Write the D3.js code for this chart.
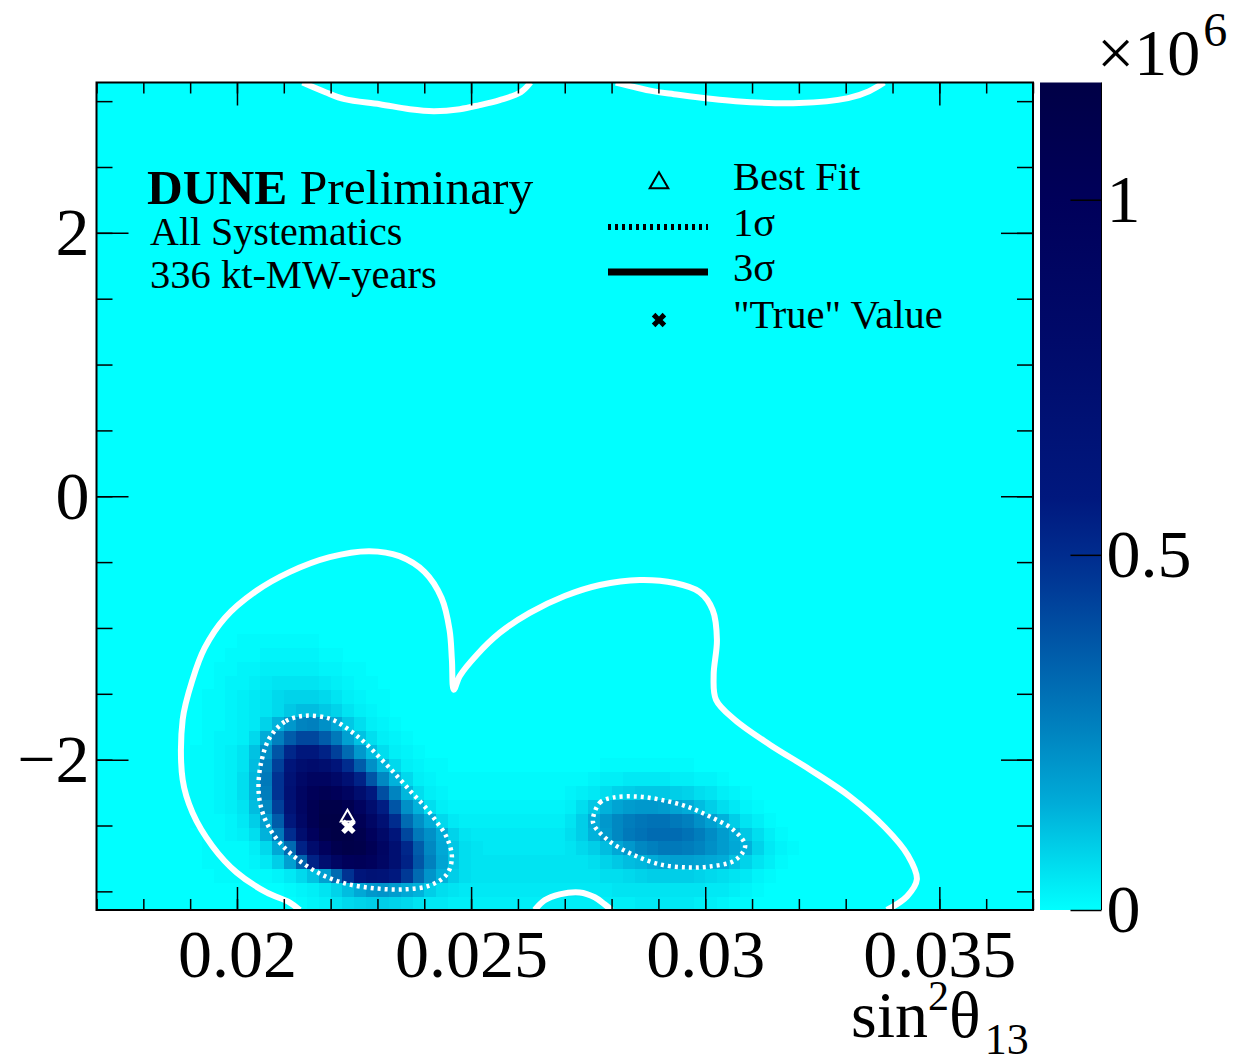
<!DOCTYPE html>
<html>
<head>
<meta charset="utf-8">
<script src="https://cdn.jsdelivr.net/npm/d3@7"></script>
<style>
body { margin: 0; background: #fff; }
text { font-family: "Liberation Serif", "Times New Roman", serif; fill: #000; }
</style>
</head>
<body>
<div id="svg"></div>
<script>
//binning of the posterior histogram
let xMin = 0.017, xMax = 0.037, nBinsX = 80;
let yMin = -Math.PI, yMax = Math.PI, nBinsY = 60;
let firstCol = 8; // first stored column (bin index); rows start at bin 0

//posterior density per bin (units of 1e4), rows from delta=-pi upward, columns 8..61
let densityRows = [
  [0,0,0,0,0,0,0,0,0,1, 2,3,5,7,8,9,9,8,7,5, 4,4,3,3,3,3,3,3,3,3, 3,3,3,3,3,3,3,3,4,4, 4,4,4,3,3,2,1,1,0,0, 0,0,0,0],
  [0,0,0,0,0,0,0,0,1,2, 3,5,8,12,16,20,21,19,16,14, 9,6,5,4,4,4,4,4,4,4, 4,4,4,4,4,4,5,5,5,5, 5,5,5,5,4,4,3,2,1,0, 0,0,0,0],
  [0,0,1,1,1,1,1,2,4,7, 11,18,32,48,62,68,66,58,46,32, 21,14,9,6,5,5,5,5,5,5, 5,5,5,5,5,6,6,7,8,9, 9,9,9,8,7,6,5,4,2,1, 0,0,0,0],
  [0,1,1,1,1,2,4,9,18,34, 54,74,90,100,102,98,88,72,54,38, 26,17,10,6,5,5,5,5,5,5, 5,5,5,5,6,8,10,12,13,15, 17,18,18,17,16,15,11,8,5,3, 1,0,0,0],
  [0,1,1,1,1,3,7,16,32,54, 78,98,110,114,112,104,90,72,52,36, 24,16,10,6,5,4,4,4,4,4, 4,4,5,7,9,12,16,20,24,26, 28,28,27,25,22,19,16,14,8,4, 2,1,0,0],
  [0,1,1,2,3,6,14,28,50,76, 98,112,117,116,110,98,82,62,42,28, 22,15,8,5,4,4,4,4,4,4, 4,4,6,9,14,19,24,28,30,32, 32,32,30,27,23,19,15,10,6,3, 1,0,0,0],
  [1,1,1,2,4,9,18,36,60,86, 106,116,117,114,104,88,70,50,32,22, 15,7,4,3,3,3,3,3,3,3, 3,3,5,9,15,20,24,27,29,30, 30,28,26,22,18,14,9,5,3,1, 0,0,0,0],
  [1,1,2,3,5,12,24,44,68,90, 106,114,114,108,94,76,56,38,22,14, 6,3,2,2,2,2,2,2,2,2, 2,2,3,6,10,14,17,19,20,20, 19,17,15,12,9,6,4,2,1,0, 0,0,0,0],
  [1,1,2,3,6,13,27,48,70,90, 102,106,102,92,76,58,40,25,13,6, 3,2,1,1,1,1,1,1,1,1, 1,1,2,3,4,6,8,9,10,10, 10,9,8,6,5,3,2,1,0,0, 0,0,0,0],
  [1,1,2,3,6,13,28,48,68,84, 92,92,84,70,54,38,24,14,7,3, 2,1,1,1,1,1,1,1,1,1, 1,1,1,1,2,3,3,4,4,4, 4,3,3,2,2,1,0,0,0,0, 0,0,0,0],
  [1,1,2,3,5,12,26,44,62,74, 78,74,64,50,36,22,13,7,3,2, 1,1,0,0,0,0,0,0,0,0, 0,0,0,0,0,1,1,1,1,1, 1,1,1,0,0,0,0,0,0,0, 0,0,0,0],
  [1,1,2,3,5,11,22,38,52,60, 60,54,44,32,20,12,6,3,2,1, 0,0,0,0,0,0,0,0,0,0, 0,0,0,0,0,0,0,0,0,0, 0,0,0,0,0,0,0,0,0,0, 0,0,0,0],
  [0,1,2,2,3,7,15,26,36,42, 42,36,28,18,11,6,3,2,1,0, 0,0,0,0,0,0,0,0,0,0, 0,0,0,0,0,0,0,0,0,0, 0,0,0,0,0,0,0,0,0,0, 0,0,0,0],
  [0,1,1,2,3,4,8,14,20,25, 26,22,16,10,6,3,2,1,0,0, 0,0,0,0,0,0,0,0,0,0, 0,0,0,0,0,0,0,0,0,0, 0,0,0,0,0,0,0,0,0,0, 0,0,0,0],
  [0,1,1,2,3,4,5,7,10,12, 12,10,8,5,3,2,1,0,0,0, 0,0,0,0,0,0,0,0,0,0, 0,0,0,0,0,0,0,0,0,0, 0,0,0,0,0,0,0,0,0,0, 0,0,0,0],
  [0,1,1,2,3,4,5,7,8,8, 8,7,5,3,2,1,1,0,0,0, 0,0,0,0,0,0,0,0,0,0, 0,0,0,0,0,0,0,0,0,0, 0,0,0,0,0,0,0,0,0,0, 0,0,0,0],
  [0,0,1,2,2,3,4,5,5,5, 5,4,3,2,1,1,0,0,0,0, 0,0,0,0,0,0,0,0,0,0, 0,0,0,0,0,0,0,0,0,0, 0,0,0,0,0,0,0,0,0,0, 0,0,0,0],
  [0,0,1,1,2,2,3,3,3,3, 3,2,2,1,1,0,0,0,0,0, 0,0,0,0,0,0,0,0,0,0, 0,0,0,0,0,0,0,0,0,0, 0,0,0,0,0,0,0,0,0,0, 0,0,0,0],
  [0,0,0,1,1,1,2,2,2,2, 2,1,1,0,0,0,0,0,0,0, 0,0,0,0,0,0,0,0,0,0, 0,0,0,0,0,0,0,0,0,0, 0,0,0,0,0,0,0,0,0,0, 0,0,0,0],
  [0,0,0,0,1,1,1,1,1,1, 1,0,0,0,0,0,0,0,0,0, 0,0,0,0,0,0,0,0,0,0, 0,0,0,0,0,0,0,0,0,0, 0,0,0,0,0,0,0,0,0,0, 0,0,0,0]
];

//1 sigma contours [sin2theta13, deltaCP]
let sigma1A = [[0.02144,-1.667],[0.02102,-1.712],[0.02070,-1.833],[0.02053,-2.000],[0.02046,-2.189],[0.02050,-2.341],[0.02065,-2.492],[0.02091,-2.629],[0.02130,-2.758],[0.02176,-2.864],[0.02230,-2.939],[0.02294,-2.977],[0.02358,-2.985],[0.02412,-2.955],[0.02448,-2.871],[0.02459,-2.742],[0.02448,-2.591],[0.02426,-2.470],[0.02399,-2.348],[0.02373,-2.250],[0.02343,-2.129],[0.02309,-2.000],[0.02273,-1.871],[0.02236,-1.765],[0.02198,-1.689]];
let sigma1B = [[0.02760,-2.455],[0.02775,-2.326],[0.02803,-2.288],[0.02854,-2.280],[0.02903,-2.303],[0.02961,-2.356],[0.03010,-2.432],[0.03059,-2.530],[0.03085,-2.644],[0.03080,-2.705],[0.03059,-2.773],[0.03010,-2.811],[0.02961,-2.818],[0.02903,-2.795],[0.02845,-2.720],[0.02796,-2.621],[0.02764,-2.508]];

//3 sigma contours
let sigma3Main = [[0.02134,-3.1416],[0.02112,-3.083],[0.02063,-3.008],[0.01999,-2.856],[0.01948,-2.659],[0.01905,-2.402],[0.01884,-2.152],[0.01884,-1.697],[0.01905,-1.394],[0.01931,-1.152],[0.01974,-0.924],[0.02038,-0.727],[0.02112,-0.576],[0.02198,-0.462],[0.02283,-0.417],[0.02347,-0.455],[0.02401,-0.576],[0.02437,-0.773],[0.02454,-1.015],[0.02459,-1.242],[0.02463,-1.470],[0.02476,-1.364],[0.02512,-1.205],[0.02561,-1.038],[0.02625,-0.886],[0.02700,-0.758],[0.02775,-0.674],[0.02860,-0.636],[0.02935,-0.659],[0.02988,-0.727],[0.03016,-0.864],[0.03025,-1.091],[0.03018,-1.356],[0.03023,-1.545],[0.03063,-1.697],[0.03138,-1.886],[0.03224,-2.076],[0.03309,-2.280],[0.03384,-2.515],[0.03433,-2.727],[0.03452,-2.909],[0.03431,-3.038],[0.03388,-3.1416]];
let sigma3Bump = [[0.02636,-3.1416],[0.02657,-3.068],[0.02689,-3.023],[0.02732,-3.008],[0.02764,-3.045],[0.02785,-3.098],[0.02800,-3.1416]];
let sigma3TopA = [[0.02140,3.1416],[0.02189,3.068],[0.02230,3.015],[0.02305,2.977],[0.02369,2.939],[0.02420,2.924],[0.02476,2.939],[0.02518,2.970],[0.02561,3.008],[0.02606,3.068],[0.02627,3.1416]];
let sigma3TopB = [[0.02809,3.1416],[0.02888,3.076],[0.02933,3.053],[0.03065,3.000],[0.03200,2.985],[0.03305,3.023],[0.03350,3.076],[0.03382,3.1416]];

let bestFit = [0.02236, -2.44];
let trueValue = [0.02238, -2.51];

//ticks
let xMajorTicks = [0.02, 0.025, 0.03, 0.035];
let xMinorTicks = d3.range(17, 38).map(d => d / 1000);
let yMajorTicks = [-2, 0, 2];
let yMinorTicks = d3.range(-6, 7).map(d => d / 2);
let zTicks = [0, 0.5, 1];

let legendLabels = ['Best Fit', '1σ', '3σ', '"True" Value'];

//palette (density in 1e4 units)
let paletteValues = [0, 5, 15, 25, 35, 45, 50, 58, 80, 100, 116.5];
let paletteColors = ['#00ffff', '#00e4f2', '#00acd8', '#0084c0', '#0060ac', '#003c98', '#002c8e', '#00187e', '#000a6a', '#00005a', '#000046'];

//dimensions
let w = 1244, h = 1064;
let pLeft = 96.5, pRight = 1033, pTop = 82.5, pBottom = 910;
let barL = 1040, barR = 1101.5;
let tickFont = 68;

let svg = d3.select('#svg').append('svg').attr('width', w).attr('height', h);

let x = d3.scaleLinear().domain([xMin, xMax]).range([pLeft, pRight]);
let y = d3.scaleLinear().domain([yMin, yMax]).range([pBottom, pTop]);
let color = d3.scaleLinear().domain(paletteValues).range(paletteColors).clamp(true);

svg.append('clipPath').attr('id', 'plotClip').append('rect')
  .attr('x', pLeft).attr('y', pTop).attr('width', pRight - pLeft).attr('height', pBottom - pTop);

//background
svg.append('rect').attr('x', pLeft).attr('y', pTop).attr('width', pRight - pLeft).attr('height', pBottom - pTop)
  .attr('fill', color(0));

//cells
let dx = (xMax - xMin) / nBinsX, dy = (yMax - yMin) / nBinsY;
let cells = [];
densityRows.forEach((row, r) => {
  row.forEach((v, i) => {
    if (v > 0) cells.push({ c: firstCol + i, r: r, v: v });
  });
});
svg.append('g').attr('clip-path', 'url(#plotClip)').selectAll('rect').data(cells).enter().append('rect')
  .attr('x', d => x(xMin + d.c * dx))
  .attr('y', d => y(yMin + (d.r + 1) * dy))
  .attr('width', d => x(xMin + (d.c + 1) * dx) - x(xMin + d.c * dx) + 0.4)
  .attr('height', d => y(yMin + d.r * dy) - y(yMin + (d.r + 1) * dy) + 0.4)
  .attr('fill', d => color(d.v))
  .attr('shape-rendering', 'crispEdges');

//contours
let line = d3.line().x(d => x(d[0])).y(d => y(d[1])).curve(d3.curveCatmullRom.alpha(0.5));
let lineClosed = d3.line().x(d => x(d[0])).y(d => y(d[1])).curve(d3.curveCatmullRomClosed.alpha(0.5));
let cg = svg.append('g').attr('clip-path', 'url(#plotClip)');
cg.selectAll('path.s3').data([sigma3Main, sigma3Bump, sigma3TopA, sigma3TopB]).enter().append('path')
  .attr('class', 's3').attr('d', line)
  .attr('fill', 'none').attr('stroke', '#fff').attr('stroke-width', 6).attr('stroke-linejoin', 'round');
cg.selectAll('path.s1').data([sigma1A, sigma1B]).enter().append('path')
  .attr('class', 's1').attr('d', lineClosed)
  .attr('fill', 'none').attr('stroke', '#fff').attr('stroke-width', 4.5).attr('stroke-dasharray', '3 4');

//markers
svg.append('path').attr('d', d3.symbol(d3.symbolTriangle, 80)())
  .attr('transform', 'translate(' + x(bestFit[0]) + ',' + y(bestFit[1]) + ')')
  .attr('fill', 'none').attr('stroke', '#fff').attr('stroke-width', 2);
svg.append('path').attr('d', d3.symbol(d3.symbolCross, 130)())
  .attr('transform', 'translate(' + x(trueValue[0]) + ',' + y(trueValue[1]) + ') rotate(45)')
  .attr('fill', '#fff');

//axes
function styleAxis(g) {
  g.select('.domain').remove();
  g.selectAll('.tick line').attr('stroke', '#000').attr('stroke-width', 1.5);
  g.selectAll('.tick text').attr('font-size', tickFont).attr('font-family', '"Liberation Serif", serif').attr('fill', '#000');
}
let xfmt = d => String(d);
svg.append('g').attr('transform', 'translate(0,' + pBottom + ')')
  .call(d3.axisBottom(x).tickValues(xMinorTicks).tickSize(-11).tickFormat('')).call(styleAxis);
svg.append('g').attr('transform', 'translate(0,' + pBottom + ')')
  .call(d3.axisBottom(x).tickValues(xMajorTicks).tickSize(-23).tickPadding(19).tickFormat(xfmt)).call(styleAxis);
svg.append('g').attr('transform', 'translate(0,' + pTop + ')')
  .call(d3.axisTop(x).tickValues(xMinorTicks).tickSize(-11).tickFormat('')).call(styleAxis);
svg.append('g').attr('transform', 'translate(0,' + pTop + ')')
  .call(d3.axisTop(x).tickValues(xMajorTicks).tickSize(-23).tickFormat('')).call(styleAxis);

svg.append('g').attr('transform', 'translate(' + pLeft + ',0)')
  .call(d3.axisLeft(y).tickValues(yMinorTicks).tickSize(-16).tickFormat('')).call(styleAxis);
svg.append('g').attr('transform', 'translate(' + pLeft + ',0)')
  .call(d3.axisLeft(y).tickValues(yMajorTicks).tickSize(-32).tickPadding(7).tickFormat(d3.format('d'))).call(styleAxis);
svg.append('g').attr('transform', 'translate(' + pRight + ',0)')
  .call(d3.axisRight(y).tickValues(yMinorTicks).tickSize(-16).tickFormat('')).call(styleAxis);
svg.append('g').attr('transform', 'translate(' + pRight + ',0)')
  .call(d3.axisRight(y).tickValues(yMajorTicks).tickSize(-32).tickFormat('')).call(styleAxis);

//frame
svg.append('rect').attr('x', pLeft).attr('y', pTop).attr('width', pRight - pLeft).attr('height', pBottom - pTop)
  .attr('fill', 'none').attr('stroke', '#000').attr('stroke-width', 2);

//colour bar
let zMax = paletteValues[paletteValues.length - 1];
let z = d3.scaleLinear().domain([0, zMax / 100]).range([pBottom, pTop]);
let grad = svg.append('defs').append('linearGradient').attr('id', 'barGrad')
  .attr('x1', 0).attr('y1', 1).attr('x2', 0).attr('y2', 0);
grad.selectAll('stop').data(paletteValues).enter().append('stop')
  .attr('offset', d => d / zMax)
  .attr('stop-color', (d, i) => paletteColors[i]);
svg.append('rect').attr('x', barL).attr('y', pTop).attr('width', barR - barL).attr('height', pBottom - pTop)
  .attr('fill', 'url(#barGrad)');
svg.append('g').attr('transform', 'translate(' + barR + ',0)')
  .call(d3.axisRight(z).tickValues(zTicks).tickSize(-31).tickPadding(5).tickFormat(d => String(d))).call(styleAxis);
svg.append('line').attr('x1', barR).attr('x2', barR).attr('y1', pTop).attr('y2', pBottom)
  .attr('stroke', '#000').attr('stroke-width', 1);

let ex = svg.append('text').attr('x', 1097).attr('y', 75).attr('font-size', 66);
ex.append('tspan').text('×10');
ex.append('tspan').attr('dx', 3).attr('dy', -29).attr('font-size', 48).text('6');

//axis title
let xt = svg.append('text').attr('x', 851).attr('y', 1037).attr('font-size', 66);
xt.append('tspan').text('sin');
xt.append('tspan').attr('dy', -27).attr('font-size', 42).text('2');
xt.append('tspan').attr('dy', 27).text('θ');
xt.append('tspan').attr('dx', 4).attr('dy', 17).attr('font-size', 44).text('13');

//labels
let lab = svg.append('text').attr('x', 147).attr('y', 204).attr('font-size', 49.5);
lab.append('tspan').attr('font-weight', 'bold').text('DUNE');
lab.append('tspan').text(' Preliminary');
svg.append('text').attr('x', 150).attr('y', 245).attr('font-size', 40).text('All Systematics');
svg.append('text').attr('x', 150).attr('y', 288).attr('font-size', 40.5).text('336 kt-MW-years');

//legend
let legX = 733, legY = [190, 236, 281, 328];
svg.selectAll('text.leg').data(legendLabels).enter().append('text').attr('class', 'leg')
  .attr('x', legX).attr('y', (d, i) => legY[i]).attr('font-size', 40.5).text(d => d);
svg.append('path').attr('d', d3.symbol(d3.symbolTriangle, 150)())
  .attr('transform', 'translate(659,183)').attr('fill', 'none').attr('stroke', '#000').attr('stroke-width', 2);
svg.append('line').attr('x1', 608).attr('x2', 708).attr('y1', 227).attr('y2', 227)
  .attr('stroke', '#000').attr('stroke-width', 6).attr('stroke-dasharray', '3 4');
svg.append('line').attr('x1', 608).attr('x2', 708).attr('y1', 272).attr('y2', 272)
  .attr('stroke', '#000').attr('stroke-width', 7);
svg.append('path').attr('d', d3.symbol(d3.symbolCross, 130)())
  .attr('transform', 'translate(659,320) rotate(45)').attr('fill', '#000');
</script>
</body>
</html>
